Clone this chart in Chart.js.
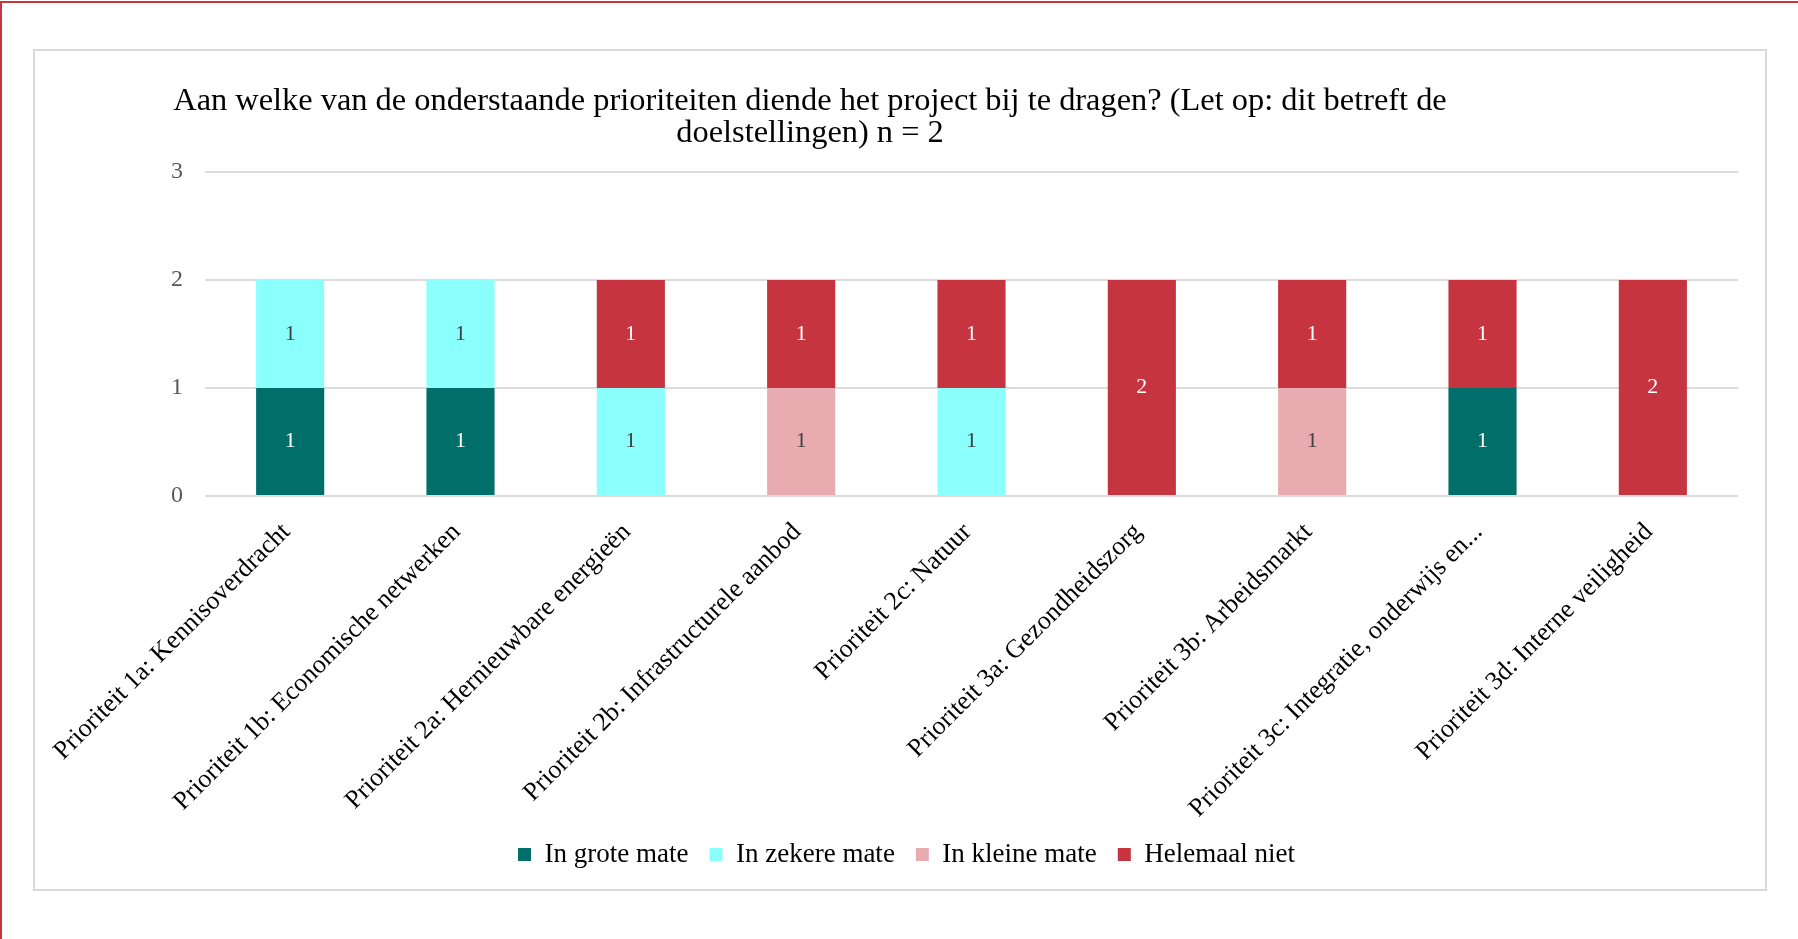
<!DOCTYPE html>
<html lang="nl">
<head>
    <meta charset="UTF-8">
    <title>Prioriteiten</title>
    <script src="https://cdn.jsdelivr.net/npm/chart.js"></script>
    <style>
        body { margin: 0; background: #fff; width: 1798px; height: 939px; overflow: hidden; position: relative; }
        #frame {
            position: absolute; left: 0; top: 1px; right: 0; bottom: 0;
            border-top: 2px solid #c8373f; border-left: 2px solid #c8373f;
        }
        #box {
            position: absolute; left: 33px; top: 49px; width: 1730px; height: 838px;
            border: 2px solid #d9d9d9; background: #fff;
        }
        #chartTitle {
            position: absolute; left: 110px; top: 83px; width: 1400px;
            text-align: center; font-family: "Liberation Serif", serif; font-size: 32.4px;
            line-height: 32px; color: #000;
        }
        canvas { position: absolute; left: 35px; top: 51px; }
    </style>
</head>
<body>
    <div id="frame"></div>
    <div id="box"></div>
    <canvas id="prioChart" width="1730" height="838"></canvas>
    <div id="chartTitle">Aan welke van de onderstaande prioriteiten diende het project bij te dragen? (Let op: dit betreft de<br>doelstellingen) n = 2</div>

    <script>
        const categories = [
            'Prioriteit 1a: Kennisoverdracht',
            'Prioriteit 1b: Economische netwerken',
            'Prioriteit 2a: Hernieuwbare energieën',
            'Prioriteit 2b: Infrastructurele aanbod',
            'Prioriteit 2c: Natuur',
            'Prioriteit 3a: Gezondheidszorg',
            'Prioriteit 3b: Arbeidsmarkt',
            'Prioriteit 3c: Integratie, onderwijs en...',
            'Prioriteit 3d: Interne veiligheid'
        ];
        const grote = [1, 1, 0, 0, 0, 0, 0, 1, 0];
        const zekere = [1, 1, 1, 0, 1, 0, 0, 0, 0];
        const kleine = [0, 0, 0, 1, 0, 0, 1, 0, 0];
        const helemaalNiet = [0, 0, 1, 1, 1, 2, 1, 1, 2];
        const yTicks = [0, 1, 2, 3];

        const serif = '"Liberation Serif", serif';

        // value labels in the middle of each segment
        const segmentLabels = {
            id: 'segmentLabels',
            afterDatasetsDraw(chart) {
                const ctx = chart.ctx;
                ctx.save();
                ctx.font = '22px ' + serif;
                ctx.textAlign = 'center';
                ctx.textBaseline = 'middle';
                chart.data.datasets.forEach((ds, i) => {
                    const meta = chart.getDatasetMeta(i);
                    meta.data.forEach((bar, j) => {
                        const v = ds.data[j];
                        if (!v) return;
                        const p = bar.getProps(['x', 'y', 'base'], true);
                        ctx.fillStyle = ds.labelColor;
                        ctx.fillText(String(v), p.x, (p.y + p.base) / 2);
                    });
                });
                ctx.restore();
            }
        };

        new Chart(document.getElementById('prioChart'), {
            type: 'bar',
            data: {
                labels: categories,
                datasets: [
                    { label: 'In grote mate', data: grote, backgroundColor: '#006e69', labelColor: '#ffffff' },
                    { label: 'In zekere mate', data: zekere, backgroundColor: '#8bfffb', labelColor: '#404040' },
                    { label: 'In kleine mate', data: kleine, backgroundColor: '#e8acb0', labelColor: '#404040' },
                    { label: 'Helemaal niet', data: helemaalNiet, backgroundColor: '#c5343f', labelColor: '#ffffff' }
                ]
            },
            options: {
                responsive: false,
                animation: false,
                barPercentage: 0.4,
                categoryPercentage: 1.0,
                layout: { padding: { top: 121, right: 27, bottom: 11, left: 40 } },
                plugins: {
                    title: { display: false },
                    tooltip: { enabled: false },
                    legend: {
                        position: 'bottom',
                        labels: {
                            boxWidth: 13,
                            boxHeight: 13,
                            padding: 21,
                            color: '#000',
                            font: { family: serif, size: 27 }
                        }
                    }
                },
                scales: {
                    x: {
                        stacked: true,
                        grid: { display: false },
                        border: { display: false },
                        ticks: {
                            autoSkip: false,
                            maxRotation: 45,
                            minRotation: 45,
                            padding: 13,
                            labelOffset: -4,
                            color: '#000',
                            font: { family: serif, size: 26 }
                        },
                        afterFit(scale) {
                            scale.height = 324;
                            scale.paddingLeft = 0;
                            scale.paddingRight = 0;
                        }
                    },
                    y: {
                        stacked: true,
                        min: 0,
                        max: 3,
                        afterBuildTicks(scale) { scale.ticks = yTicks.map(v => ({ value: v })); },
                        grid: { color: '#dcdcdc', lineWidth: 2, drawTicks: false },
                        border: { display: false },
                        ticks: {
                            padding: 22,
                            color: '#595959',
                            font: { family: serif, size: 24 }
                        },
                        afterFit(scale) { scale.width = 130; }
                    }
                }
            },
            plugins: [segmentLabels]
        });
    </script>
</body>
</html>
